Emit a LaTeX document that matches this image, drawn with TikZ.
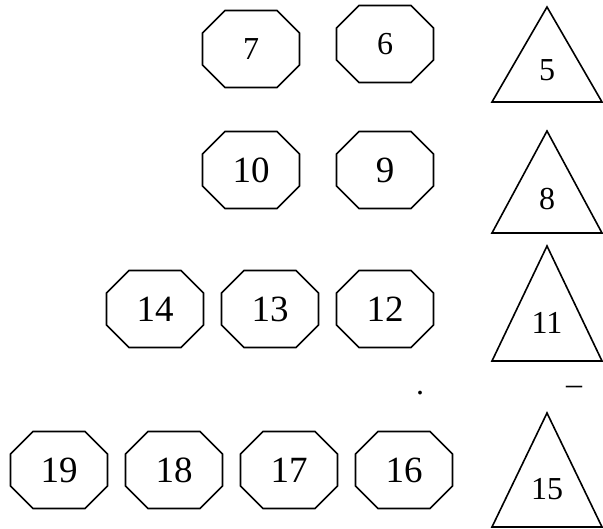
\documentclass[tikz,border=0pt]{standalone}
\usepackage{fontspec}
\setmainfont{Liberation Serif}
\usetikzlibrary{positioning}
\tikzstyle{octa} = [rectangle, outer sep=0pt, inner sep=0pt, minimum width=97pt, minimum height=77pt, font=\fontsize{37}{40}\selectfont]
\tikzstyle{octasmall} = [octa, font=\fontsize{32}{36}\selectfont]
\tikzstyle{edge} = [draw, line width=1.6pt, line join=miter]
\tikzstyle{trilabel} = [inner sep=0pt, font=\fontsize{32}{36}\selectfont]

\begin{document}
\begin{tikzpicture}[x=1pt, y=-1pt]
        \useasboundingbox (0,0) rectangle (603,529);

        % octagon rows
        \node (o7) [octasmall] at (251,49) {7};
        \node (o6) [octasmall] at (385,44) {6};

        \node (o10) [octa] at (251,170) {10};
        \node (o9) [octa, right=37pt of o10] {9};

        \node (o12) [octa] at (385,309) {12};
        \node (o13) [octa, left=18pt of o12] {13};
        \node (o14) [octa, left=18pt of o13] {14};

        \node (o16) [octa] at (404,470) {16};
        \node (o17) [octa, left=18pt of o16] {17};
        \node (o18) [octa, left=18pt of o17] {18};
        \node (o19) [octa, left=18pt of o18] {19};

        % cut corners round each box
        \foreach \o in {o7,o6,o10,o9,o12,o13,o14,o16,o17,o18,o19}
            \path [edge] ([xshift=22.5pt]\o.north west) -- ([xshift=-22.5pt]\o.north east)
                -- ([yshift=-22.5pt]\o.north east) -- ([yshift=22.5pt]\o.south east)
                -- ([xshift=-22.5pt]\o.south east) -- ([xshift=22.5pt]\o.south west)
                -- ([yshift=22.5pt]\o.south west) -- ([yshift=-22.5pt]\o.north west) -- cycle;

        % triangles on the right
        \foreach \n/\ytop/\ybot in {5/7/102, 8/131/233, 11/246/361, 15/413/527} {
            \path [edge] (492,\ybot) -- (547,\ytop) -- (602,\ybot) -- cycle;
            \node (t\n) [trilabel] at (547,{(\ytop+2*\ybot)/3}) {\n};
        }

        \node (dot) [trilabel, anchor=base] at (420,395) {.};
        \node (dash) [trilabel, anchor=base] at (574,395) {--};

    \end{tikzpicture}
\end{document}
